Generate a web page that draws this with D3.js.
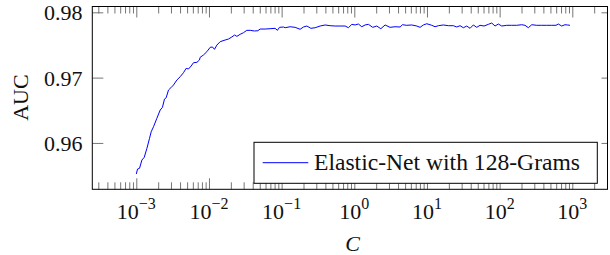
<!DOCTYPE html>
<html>
  <head>
    <meta charset="utf-8">
    <title>AUC vs C</title>
    <script src="https://cdn.jsdelivr.net/npm/d3@7" type="text/javascript"></script>
    <style>
      body { margin: 0; background: #fff; }
      text { font-family: "Liberation Serif", "Times New Roman", serif; fill: #111; }
    </style>
  </head>
  <body>
    <script>
      var logC = [-3.000, -2.983, -2.956, -2.923, -2.891, -2.854, -2.818, -2.795, -2.763, -2.717,
                  -2.671, -2.640, -2.612, -2.589, -2.557, -2.524, -2.488, -2.442, -2.396, -2.351,
                  -2.314, -2.282, -2.245, -2.213, -2.166, -2.131, -2.121, -2.076, -2.029, -1.983,
                  -1.952, -1.924, -1.891, -1.846, -1.777, -1.732, -1.685, -1.649, -1.616, -1.571,
                  -1.525, -1.479, -1.433, -1.374, -1.327, -1.296, -1.227, -1.159, -1.090, -1.058,
                  -1.030, -0.975, -0.952, -0.883, -0.814, -0.746, -0.700, -0.653, -0.598, -0.539,
                  -0.470, -0.401, -0.333, -0.264, -0.195, -0.126, -0.081, -0.034, 0.011, 0.056,
                  0.103, 0.148, 0.194, 0.254, 0.309, 0.365, 0.424, 0.492, 0.561, 0.630,
                  0.662, 0.722, 0.791, 0.860, 0.905, 0.951, 0.997, 1.066, 1.111, 1.157,
                  1.226, 1.294, 1.363, 1.410, 1.455, 1.501, 1.547, 1.593, 1.638, 1.685,
                  1.730, 1.785, 1.845, 1.891, 1.937, 1.982, 2.029, 2.098, 2.166, 2.235,
                  2.304, 2.349, 2.395, 2.442, 2.510, 2.579, 2.648, 2.717, 2.776, 2.807,
                  2.854, 2.899, 2.931, 2.968];
      var auc = [0.95524, 0.95600, 0.95611, 0.95738, 0.95779, 0.95917, 0.96070, 0.96171, 0.96248, 0.96377,
                 0.96504, 0.96545, 0.96672, 0.96692, 0.96810, 0.96845, 0.96887, 0.96963, 0.97014, 0.97075,
                 0.97142, 0.97132, 0.97178, 0.97228, 0.97234, 0.97270, 0.97311, 0.97346, 0.97397, 0.97464,
                 0.97469, 0.97433, 0.97499, 0.97550, 0.97576, 0.97591, 0.97622, 0.97652, 0.97632, 0.97663,
                 0.97688, 0.97724, 0.97724, 0.97714, 0.97718, 0.97744, 0.97744, 0.97749, 0.97755, 0.97724,
                 0.97770, 0.97775, 0.97764, 0.97779, 0.97770, 0.97740, 0.97775, 0.97790, 0.97755, 0.97764,
                 0.97790, 0.97806, 0.97795, 0.97790, 0.97790, 0.97790, 0.97764, 0.97816, 0.97806, 0.97821,
                 0.97779, 0.97806, 0.97816, 0.97770, 0.97790, 0.97749, 0.97806, 0.97770, 0.97779, 0.97775,
                 0.97810, 0.97801, 0.97806, 0.97790, 0.97770, 0.97806, 0.97825, 0.97801, 0.97779, 0.97795,
                 0.97806, 0.97795, 0.97795, 0.97775, 0.97795, 0.97764, 0.97790, 0.97755, 0.97806, 0.97770,
                 0.97801, 0.97790, 0.97816, 0.97836, 0.97790, 0.97821, 0.97790, 0.97801, 0.97801, 0.97801,
                 0.97810, 0.97801, 0.97764, 0.97810, 0.97801, 0.97801, 0.97801, 0.97801, 0.97801, 0.97821,
                 0.97790, 0.97810, 0.97806, 0.97801];

      var seriesName = "Elastic-Net with 128-Grams";
      var xMajorExp = [-3, -2, -1, 0, 1, 2, 3];
      var xMinor = [3e-4, 4e-4, 5e-4, 6e-4, 7e-4, 8e-4, 9e-4,
                    2e-3, 3e-3, 4e-3, 5e-3, 6e-3, 7e-3, 8e-3, 9e-3,
                    2e-2, 3e-2, 4e-2, 5e-2, 6e-2, 7e-2, 8e-2, 9e-2,
                    0.2, 0.3, 0.4, 0.5, 0.6, 0.7, 0.8, 0.9,
                    2, 3, 4, 5, 6, 7, 8, 9,
                    20, 30, 40, 50, 60, 70, 80, 90,
                    200, 300, 400, 500, 600, 700, 800, 900,
                    2000, 3000];
      var yTicks = [0.96, 0.97, 0.98];
      var yTickLabels = ["0.96", "0.97", "0.98"];

      var w = 610, h = 255;
      // plot box edges (named so they don't clash with window.top)
      var plotL = 92.3, plotR = 607.5, plotT = 6.5, plotB = 189.3;

      var svg = d3.select("body").append("svg")
                  .attr("width", w)
                  .attr("height", h);

      var x = d3.scaleLog().domain([2.48e-4, 3050]).range([plotL, plotR]);
      var y = d3.scaleLinear().domain([0.9529, 0.98089]).range([plotB, plotT]);

      var majorVals = xMajorExp.map(function(e) { return Math.pow(10, e); });

      // tick marks, drawn inward on all sides
      function styleTicks(g) {
        g.select(".domain").remove();
        g.selectAll("line").attr("stroke", "#666").attr("stroke-width", 0.9);
        g.selectAll("text").remove();
      }
      svg.append("g").attr("transform", "translate(0," + plotB + ")")
         .call(d3.axisBottom(x).tickValues(xMinor).tickSize(-7)).call(styleTicks);
      svg.append("g").attr("transform", "translate(0," + plotB + ")")
         .call(d3.axisBottom(x).tickValues(majorVals).tickSize(-11)).call(styleTicks);
      svg.append("g").attr("transform", "translate(0," + plotT + ")")
         .call(d3.axisTop(x).tickValues(xMinor).tickSize(-7)).call(styleTicks);
      svg.append("g").attr("transform", "translate(0," + plotT + ")")
         .call(d3.axisTop(x).tickValues(majorVals).tickSize(-11)).call(styleTicks);
      svg.append("g").attr("transform", "translate(" + plotL + ",0)")
         .call(d3.axisLeft(y).tickValues(yTicks).tickSize(-11)).call(styleTicks);
      svg.append("g").attr("transform", "translate(" + plotR + ",0)")
         .call(d3.axisRight(y).tickValues(yTicks).tickSize(-6)).call(styleTicks);

      // data line
      var pts = logC.map(function(e, i) { return [Math.pow(10, e), auc[i]]; });
      svg.append("path")
         .datum(pts)
         .attr("fill", "none")
         .attr("stroke", "#0000ff")
         .attr("stroke-width", 1)
         .attr("stroke-linejoin", "round")
         .attr("d", d3.line()
           .x(function(d) { return x(d[0]); })
           .y(function(d) { return y(d[1]); }));

      // frame
      svg.append("rect")
         .attr("x", plotL).attr("y", plotT)
         .attr("width", plotR - plotL).attr("height", plotB - plotT)
         .attr("fill", "none").attr("stroke", "#000").attr("stroke-width", 1);

      // x tick labels: 10^e
      var xl = svg.append("g").selectAll("text")
                  .data(xMajorExp)
                  .enter().append("text")
                  .attr("x", function(e) { return x(Math.pow(10, e)); })
                  .attr("y", 218.7)
                  .attr("text-anchor", "middle")
                  .style("font-size", "22px");
      xl.append("tspan").text("10");
      xl.append("tspan")
        .attr("dy", -9.5)
        .style("font-size", "16px")
        .text(function(e) { return e < 0 ? "\u2212" + (-e) : String(e); });

      // y tick labels
      svg.append("g").selectAll("text")
         .data(yTicks)
         .enter().append("text")
         .attr("x", 82.5)
         .attr("y", function(d) { return y(d) + 8; })
         .attr("text-anchor", "end")
         .style("font-size", "22px")
         .text(function(d, i) { return yTickLabels[i]; });

      // axis titles
      svg.append("text")
         .attr("transform", "translate(27.5,97.6) rotate(-90)")
         .attr("text-anchor", "middle")
         .style("font-size", "22px")
         .text("AUC");
      svg.append("text")
         .attr("x", 352.6).attr("y", 250.5)
         .attr("text-anchor", "middle")
         .style("font-size", "22px")
         .style("font-style", "italic")
         .text("C");

      // legend
      var lg = svg.append("g");
      lg.append("rect")
        .attr("x", 254).attr("y", 142.3)
        .attr("width", 343.3).attr("height", 41)
        .attr("fill", "#fff").attr("stroke", "#000").attr("stroke-width", 1);
      lg.append("line")
        .attr("x1", 262.7).attr("x2", 308.3)
        .attr("y1", 162.7).attr("y2", 162.7)
        .attr("stroke", "#0000ff").attr("stroke-width", 1);
      lg.append("text")
        .attr("x", 314).attr("y", 169.8)
        .style("font-size", "23.6px")
        .text(seriesName);
    </script>
  </body>
</html>
